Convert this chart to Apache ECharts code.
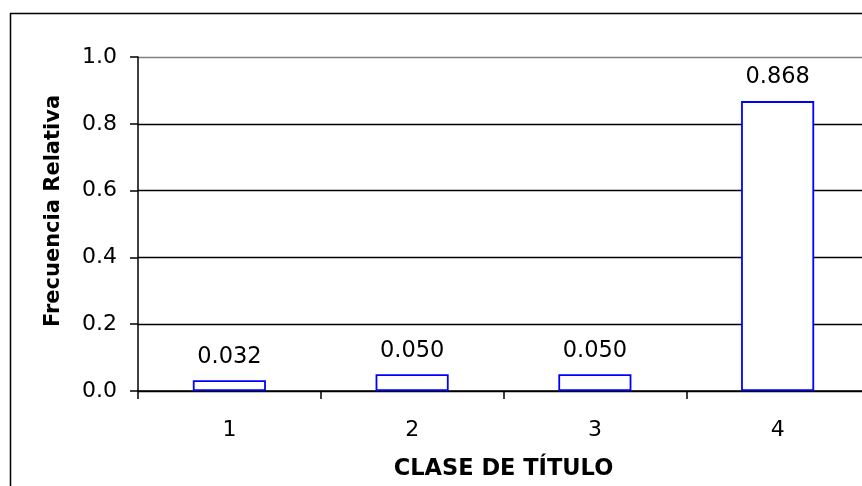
<!DOCTYPE html>
<html>
<head>
<meta charset="utf-8">
<script src="https://cdn.jsdelivr.net/npm/echarts@6/dist/echarts.min.js"></script>
<style>html,body{margin:0;padding:0;background:#fff}#c{width:862px;height:486px}</style>
</head>
<body>
<div id="c"></div>
<script>
var categories = ['1', '2', '3', '4'];
var frecuencia = [0.032, 0.050, 0.050, 0.868];
var yTicks = [0, 0.2, 0.4, 0.6, 0.8, 1.0];
var xTitle = 'CLASE DE TÍTULO';
var yTitle = 'Frecuencia Relativa';

var chart = echarts.init(document.getElementById('c'), null, {renderer: 'canvas'});
var font = 'DejaVu Sans, Verdana, sans-serif';
chart.setOption({
  animation: false,
  backgroundColor: '#fff',
  textStyle: {fontFamily: font},
  grid: {left: 138, top: 57, width: 731, height: 334, containLabel: false, outerBoundsMode: 'none'},
  graphic: [
    {type: 'rect', shape: {x: 10.5, y: 13.5, width: 900, height: 520}, style: {fill: 'none', stroke: '#000', lineWidth: 1.5}, silent: true, z: 0},
    {type: 'text', x: 54, y: 211, rotation: Math.PI / 2, style: {text: yTitle, font: 'bold 21px ' + font, fill: '#000', align: 'center', verticalAlign: 'middle'}, z: 10}
  ],
  xAxis: {
    type: 'category',
    data: categories,
    boundaryGap: true,
    axisLine: {lineStyle: {color: '#000', width: 1.5}},
    axisTick: {show: true, length: 8, lineStyle: {color: '#000', width: 1.5}},
    axisLabel: {color: '#000', fontSize: 22, margin: 28, fontFamily: font},
    name: xTitle,
    nameLocation: 'middle',
    nameGap: 67,
    nameTextStyle: {color: '#000', fontSize: 22.5, fontWeight: 'bold', fontFamily: font}
  },
  yAxis: {
    type: 'value',
    min: 0, max: 1, interval: 0.2,
    axisLine: {show: true, lineStyle: {color: '#000', width: 1.5}},
    axisTick: {show: true, length: 8, lineStyle: {color: '#000', width: 1.5}},
    axisLabel: {color: '#000', fontSize: 22, margin: 21, fontFamily: font, formatter: function (v) { return v.toFixed(1); }},
    splitLine: {show: true, lineStyle: {color: ['#000', '#000', '#000', '#000', '#000', '#808080'], width: 1.3}}
  },
  series: [{
    type: 'bar',
    data: frecuencia,
    barWidth: '40%',
    itemStyle: {color: '#fff', borderColor: '#0000ff', borderWidth: 1.8},
    label: {show: true, position: 'top', distance: 12, color: '#000', fontSize: 22.5, fontFamily: font, formatter: function (p) { return p.value.toFixed(3); }}
  }]
});
</script>
</body>
</html>
